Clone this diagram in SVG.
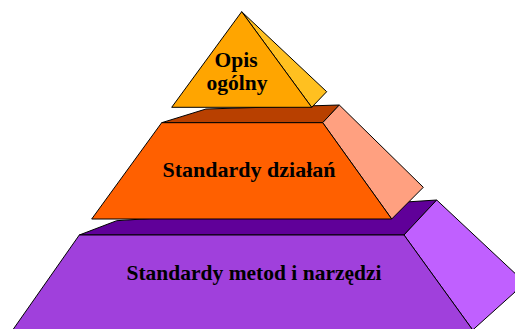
<svg xmlns="http://www.w3.org/2000/svg" width="515" height="329" viewBox="0 0 515 329">
<style>
.s{stroke:#000;stroke-width:1;stroke-linejoin:round}
.t{font-family:"Liberation Serif","Times New Roman",serif;font-weight:bold;font-size:21.5px;fill:#000;text-anchor:middle}
</style>
<rect width="515" height="329" fill="#fff"/>
<g id="base">
<polygon class="s" fill="#600099" points="79.3,235 116.7,220.7 436.7,200 404,235"/>
<polygon class="s" fill="#C060FF" points="404,235 436.7,200 520,278 515,292 472.7,330"/>
<polygon class="s" fill="#A040DC" points="79.3,235 404,235 472.7,330 12.7,330"/>
<text class="t" x="254" y="280">Standardy metod i narzędzi</text>
</g>
<g id="middle">
<polygon class="s" fill="#B84000" points="161.7,122.7 206,109 339.3,105 322.7,122.7"/>
<polygon class="s" fill="#FFA080" points="322.7,122.7 339.3,105 423.3,187.3 391.7,219"/>
<polygon class="s" fill="#FF6000" points="161.7,122.7 322.7,122.7 391.7,219 91.7,219"/>
<text class="t" x="249" y="177" style="font-size:22px">Standardy działań</text>
</g>
<g id="top">
<polygon class="s" fill="#FFC020" points="241.7,11.7 326.7,91.7 311.7,107.3"/>
<polygon class="s" fill="#FFA500" points="241.7,11.7 311.7,107.3 171.7,107.3"/>
<text class="t" x="236" y="67">Opis</text>
<text class="t" x="237" y="90">ogólny</text>
</g>
</svg>
